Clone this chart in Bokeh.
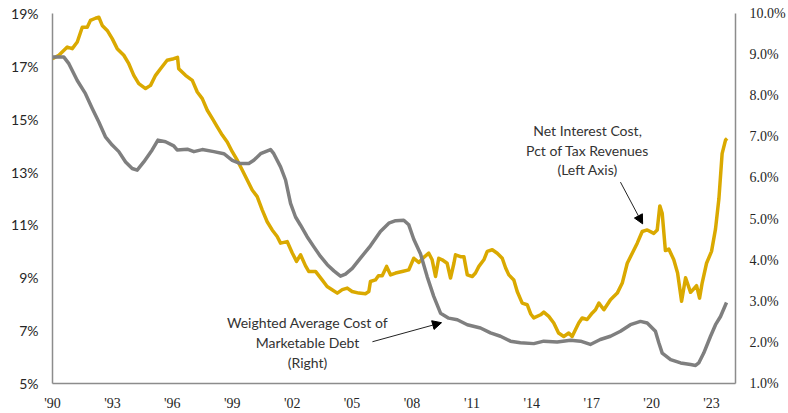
from bokeh.plotting import figure
from bokeh.models import Range1d, LinearAxis, FixedTicker, Arrow, NormalHead, Label, PrintfTickFormatter
from bokeh.embed import file_html
from bokeh.resources import INLINE

# Net interest cost, pct of tax revenues (left axis)
nic_years = [1990.0, 1990.32, 1990.74, 1990.99, 1991.24, 1991.49, 1991.74, 1991.9, 1992.15, 1992.32,
             1992.49, 1992.74, 1992.99, 1993.24, 1993.57, 1993.82, 1994.07, 1994.32, 1994.66, 1994.91,
             1995.16, 1995.41, 1995.74, 1996.07, 1996.26, 1996.32, 1996.66, 1997.0, 1997.25, 1997.5,
             1997.75, 1998.0, 1998.25, 1998.5, 1998.75, 1999.0, 1999.25, 1999.5, 1999.75, 2000.0,
             2000.25, 2000.5, 2000.75, 2001.0, 2001.25, 2001.42, 2001.75, 2002.0, 2002.22, 2002.42,
             2002.67, 2002.83, 2003.17, 2003.5, 2003.75, 2004.0, 2004.26, 2004.51, 2004.76, 2005.0,
             2005.34, 2005.67, 2005.84, 2005.92, 2006.17, 2006.32, 2006.51, 2006.73, 2006.93, 2007.18,
             2007.51, 2007.84, 2008.09, 2008.34, 2008.59, 2008.84, 2009.01, 2009.18, 2009.34, 2009.51,
             2009.76, 2009.93, 2010.1, 2010.18, 2010.43, 2010.6, 2010.77, 2011.02, 2011.18, 2011.35,
             2011.6, 2011.77, 2012.02, 2012.27, 2012.52, 2012.69, 2012.85, 2013.1, 2013.27, 2013.52,
             2013.77, 2013.94, 2014.1, 2014.44, 2014.6, 2014.85, 2015.1, 2015.34, 2015.6, 2015.85,
             2016.02, 2016.19, 2016.35, 2016.52, 2016.77, 2017.03, 2017.19, 2017.36, 2017.61, 2017.94,
             2018.28, 2018.53, 2018.78, 2019.03, 2019.28, 2019.53, 2019.78, 2020.11, 2020.28, 2020.41,
             2020.53, 2020.69, 2020.86, 2021.11, 2021.3, 2021.5, 2021.7, 2021.95, 2022.25, 2022.4,
             2022.53, 2022.75, 2023.0, 2023.2, 2023.37, 2023.53, 2023.7, 2023.78]
nic_values = [17.29, 17.42, 17.73, 17.67, 17.92, 18.48, 18.48, 18.74, 18.82, 18.86,
              18.55, 18.36, 18.05, 17.67, 17.42, 17.10, 16.66, 16.35, 16.16, 16.28,
              16.66, 16.91, 17.23, 17.29, 17.34, 16.91, 16.66, 16.47, 16.03, 15.78,
              15.34, 15.03, 14.71, 14.40, 14.14, 13.77, 13.45, 13.08, 12.70, 12.32,
              12.07, 11.57, 11.12, 10.81, 10.56, 10.31, 10.37, 9.95, 9.62, 9.87,
              9.45, 9.24, 9.24, 8.92, 8.67, 8.55, 8.42, 8.55, 8.61, 8.48,
              8.42, 8.40, 8.48, 8.86, 8.92, 9.08, 9.08, 9.43, 9.11, 9.18,
              9.24, 9.30, 9.74, 9.58, 9.77, 9.93, 9.68, 9.05, 9.74, 9.68,
              9.55, 8.99, 9.55, 9.87, 9.80, 9.80, 9.11, 9.05, 9.18, 9.43,
              9.68, 10.00, 10.06, 9.93, 9.74, 9.37, 9.11, 8.92, 8.48, 8.04,
              7.98, 7.64, 7.48, 7.60, 7.70, 7.54, 7.29, 6.91, 6.78, 6.91,
              6.78, 7.04, 7.29, 7.48, 7.42, 7.67, 7.79, 8.04, 7.79, 8.17,
              8.42, 8.80, 9.55, 9.93, 10.31, 10.75, 10.81, 10.68, 10.81, 11.72,
              11.44, 10.03, 10.09, 9.68, 9.18, 8.11, 9.00, 8.45, 8.70, 8.23,
              8.80, 9.55, 10.00, 10.85, 12.00, 13.70, 14.21, 14.27]

# Weighted average cost of marketable debt (right axis)
wac_years = [1990.0, 1990.57, 1990.82, 1991.24, 1991.65, 1991.99, 1992.32, 1992.65, 1992.99, 1993.32,
             1993.66, 1993.99, 1994.24, 1994.57, 1994.99, 1995.28, 1995.66, 1996.07, 1996.24, 1996.75,
             1997.08, 1997.5, 1998.08, 1998.58, 1999.0, 1999.41, 1999.83, 2000.08, 2000.42, 2000.92,
             2001.08, 2001.42, 2001.67, 2001.92, 2002.17, 2002.42, 2002.75, 2003.08, 2003.42, 2003.76,
             2004.09, 2004.42, 2004.67, 2005.01, 2005.42, 2005.92, 2006.42, 2006.84, 2007.18, 2007.59,
             2007.84, 2008.09, 2008.43, 2008.76, 2009.09, 2009.43, 2009.84, 2010.27, 2010.77, 2011.43,
             2011.93, 2012.43, 2012.93, 2013.43, 2014.1, 2014.6, 2015.27, 2015.94, 2016.44, 2016.93,
             2017.43, 2017.94, 2018.44, 2018.94, 2019.44, 2019.78, 2020.19, 2020.36, 2020.53, 2020.95,
             2021.45, 2021.95, 2022.2, 2022.36, 2022.61, 2022.95, 2023.2, 2023.45, 2023.75]
wac_values = [8.94, 8.94, 8.78, 8.37, 8.05, 7.69, 7.36, 7.00, 6.80, 6.64,
              6.39, 6.23, 6.19, 6.39, 6.68, 6.92, 6.88, 6.78, 6.68, 6.70,
              6.64, 6.69, 6.64, 6.59, 6.43, 6.35, 6.35, 6.43, 6.59, 6.69,
              6.59, 6.27, 5.95, 5.38, 5.05, 4.85, 4.57, 4.33, 4.09, 3.89,
              3.74, 3.61, 3.66, 3.80, 4.05, 4.35, 4.70, 4.90, 4.96, 4.97,
              4.86, 4.51, 4.15, 3.60, 3.12, 2.71, 2.59, 2.55, 2.43, 2.35,
              2.23, 2.15, 2.03, 1.99, 1.97, 2.03, 2.01, 2.05, 2.03, 1.95,
              2.07, 2.15, 2.27, 2.43, 2.51, 2.47, 2.27, 1.99, 1.74, 1.58,
              1.50, 1.46, 1.44, 1.50, 1.74, 2.15, 2.43, 2.63, 2.97]

tick_years = [1990, 1993, 1996, 1999, 2002, 2005, 2008, 2011, 2014, 2017, 2020, 2023]
tick_labels = ["'90", "'93", "'96", "'99", "'02", "'05", "'08", "'11", "'14", "'17", "'20", "'23"]
left_ticks = [5, 7, 9, 11, 13, 15, 17, 19]
right_ticks = [1, 2, 3, 4, 5, 6, 7, 8, 9, 10]

GOLD = "#DAA900"
GRAY = "#7F7F7F"
AXIS = "#8C8C8C"
TEXT = "#262626"

p = figure(width=788, height=413, output_backend="svg", toolbar_location=None,
           x_range=Range1d(1990, 2024.2), y_range=Range1d(5, 19),
           min_border_left=52, min_border_right=53, min_border_top=13, min_border_bottom=29)
p.extra_y_ranges = {"right": Range1d(1, 10)}
p.xgrid.visible = False
p.ygrid.visible = False
p.outline_line_color = None
p.background_fill_color = "white"
p.border_fill_color = "white"

# bottom axis
xa = p.xaxis[0]
xa.ticker = FixedTicker(ticks=tick_years)
xa.major_label_overrides = {y: l for y, l in zip(tick_years, tick_labels)}
xa.major_tick_out = 0
xa.major_tick_in = 0
xa.minor_tick_out = 0
xa.minor_tick_in = 0
xa.axis_line_color = AXIS
xa.axis_line_width = 1.5
xa.major_label_text_font = "Liberation Serif"
xa.major_label_text_font_size = "14px"
xa.major_label_text_color = TEXT
xa.major_label_standoff = 12

# left axis
ya = p.yaxis[0]
ya.ticker = FixedTicker(ticks=left_ticks)
ya.formatter = PrintfTickFormatter(format="%d%%")
ya.major_tick_out = 0
ya.major_tick_in = 0
ya.minor_tick_out = 0
ya.minor_tick_in = 0
ya.axis_line_color = AXIS
ya.axis_line_width = 1.5
ya.major_label_text_font = "Lato"
ya.major_label_text_font_size = "14px"
ya.major_label_text_color = TEXT
ya.major_label_standoff = 14

# right axis
ra = LinearAxis(y_range_name="right", ticker=FixedTicker(ticks=right_ticks),
                formatter=PrintfTickFormatter(format="%.1f%%"))
ra.major_tick_out = 0
ra.major_tick_in = 0
ra.minor_tick_out = 0
ra.minor_tick_in = 0
ra.axis_line_color = AXIS
ra.axis_line_width = 1.5
ra.major_label_text_font = "Liberation Serif"
ra.major_label_text_font_size = "14px"
ra.major_label_text_color = TEXT
ra.major_label_standoff = 14
p.add_layout(ra, "right")

p.line(nic_years, nic_values, line_color=GOLD, line_width=3.5, line_join="round")
p.line(wac_years, wac_values, line_color=GRAY, line_width=3.5, line_join="round", y_range_name="right")

# annotations
def add_text(x, y, txt):
    p.add_layout(Label(x=x, y=y, text=txt, text_align="center", text_baseline="middle",
                       text_font="Lato", text_font_size="14px", text_color="#333333"))

add_text(2016.79, 14.58, "Net Interest Cost,")
add_text(2016.79, 13.83, "Pct of Tax Revenues")
add_text(2016.79, 13.11, "(Left Axis)")
add_text(2002.77, 7.30, "Weighted Average Cost of")
add_text(2002.77, 6.55, "Marketable Debt")
add_text(2002.77, 5.79, "(Right)")

p.add_layout(Arrow(x_start=2018.44, y_start=12.62, x_end=2019.55, y_end=11.04,
                   line_color="#222222", line_width=1,
                   end=NormalHead(size=9, fill_color="black", line_color="black")))
p.add_layout(Arrow(x_start=2006.02, y_start=6.58, x_end=2009.48, y_end=7.30,
                   line_color="#222222", line_width=1,
                   end=NormalHead(size=9, fill_color="black", line_color="black")))

open("out.html", "w").write(file_html(p, INLINE))
